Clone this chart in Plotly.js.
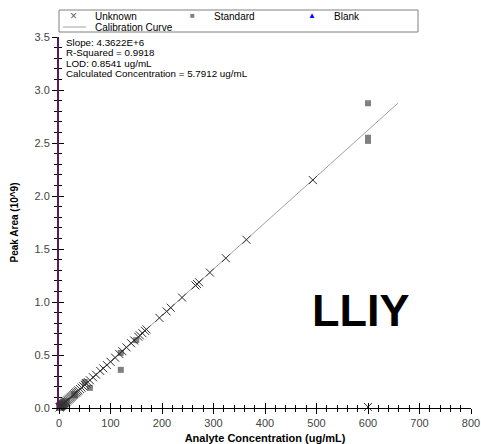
<!DOCTYPE html>
<html>
<head>
<meta charset="utf-8">
<script src="https://cdn.plot.ly/plotly-3.0.1.min.js"></script>
<style>html,body{margin:0;padding:0;background:#fff;}#chart{width:481px;height:444px;}</style>
</head>
<body>
<div id="chart"></div>
<script>
// Unknown samples (concentration ug/mL, peak area 10^9)
var unknownX = [1,2,3,4,5,6,7,8,9,10,11,12,13,14,16,18,20,22,24,26,28,30,32,34,36,38,41,44,47,50,53,56,60,66,72,80,86,93,100,109,117,123,131,140,146,154,157,162,167,170,195,209,217,239,265,268,272,293,324,364,493,600];
var unknownY = [0.005,0.010,0.014,0.018,0.023,0.027,0.031,0.036,0.040,0.045,0.048,0.053,0.058,0.062,0.071,0.079,0.088,0.097,0.105,0.114,0.123,0.131,0.140,0.148,0.157,0.166,0.179,0.192,0.205,0.218,0.231,0.244,0.262,0.290,0.314,0.350,0.374,0.405,0.436,0.475,0.510,0.536,0.572,0.611,0.637,0.672,0.685,0.706,0.728,0.741,0.850,0.911,0.946,1.042,1.156,1.169,1.186,1.278,1.413,1.587,2.150,0.010];
// Standards
var standardX = [0,1,2,5,10,15,30,30,50,60,120,120,150,600,600,600];
var standardY = [0.000,0.004,0.009,0.022,0.044,0.065,0.130,0.120,0.245,0.190,0.360,0.520,0.640,2.875,2.550,2.520];
// Blank
var blankX = [-4,-2];
var blankY = [0.025,0.020];
// Calibration curve end points
var calX = [0, 658];
var calY = [0.000, 2.875];
// Text
var statsLines = ["Slope: 4.3622E+6","R-Squared = 0.9918","LOD: 0.8541 ug/mL","Calculated Concentration = 5.7912 ug/mL"];
var legendNames = ["Unknown","Standard","Blank","Calibration Curve"];
var xTitle = "Analyte Concentration (ug/mL)";
var yTitle = "Peak Area (10^9)";
var label = "LLIY";

var W = 481, H = 444, L = 59, R = 10, T = 37, B = 36;
var pw = W - L - R, ph = H - T - B;
function px(x){ return (x - L) / pw; }
function py(y){ return (H - B - y) / ph; }

var font = "Liberation Sans, Arial, sans-serif";

var traces = [
  {x: calX, y: calY, mode: 'lines', type: 'scatter', line: {color: '#a0a0a0', width: 1}, hoverinfo: 'skip', cliponaxis: false},
  {x: standardX, y: standardY, mode: 'markers', type: 'scatter', marker: {symbol: 'square', size: 6, color: '#808080'}, cliponaxis: false},
  {x: unknownX, y: unknownY, mode: 'markers', type: 'scatter', marker: {symbol: 'x-thin-open', size: 8, color: '#303030', line: {color: '#303030', width: 1}}, cliponaxis: false},
  {x: blankX, y: blankY, mode: 'markers', type: 'scatter', marker: {symbol: 'triangle-right', size: 8, color: '#ff0000'}, cliponaxis: false}
];

var axisCommon = {
  showgrid: false, zeroline: false, showline: true, linecolor: '#000', linewidth: 1,
  tickcolor: '#000', tickwidth: 1, ticklen: 5,
  tickfont: {family: font, size: 11, color: '#444'}
};

var layout = {
  width: W, height: H,
  margin: {l: L, r: R, t: T, b: B, pad: 0},
  paper_bgcolor: '#fff', plot_bgcolor: '#fff',
  showlegend: false,
  xaxis: Object.assign({}, axisCommon, {
    range: [0, 800], dtick: 100, tick0: 0, ticks: 'outside',
    minor: {dtick: 20, ticks: 'outside', ticklen: 3, tickcolor: '#000'},
    title: {text: '<b>' + xTitle + '</b>', font: {family: font, size: 11, color: '#000'}, standoff: 6}
  }),
  yaxis: Object.assign({}, axisCommon, {
    range: [0, 3.5], dtick: 0.5, tick0: 0, ticks: 'outside', tickformat: '.1f',
    linecolor: '#5a1a5a', linewidth: 2,
    minor: {dtick: 0.1, ticks: 'outside', ticklen: 3, tickcolor: '#000'},
    title: {text: '<b>' + yTitle + '</b>', font: {family: font, size: 10, color: '#000'}, standoff: 14}
  }),
  xaxis2: {overlaying: 'x', range: [0, 800], dtick: 100, tick0: 0, ticks: 'inside', ticklen: 5, tickcolor: '#000',
    showticklabels: false, showgrid: false, zeroline: false, showline: false, anchor: 'y', side: 'bottom',
    minor: {dtick: 20, ticks: 'inside', ticklen: 3, tickcolor: '#000'}},
  yaxis2: {overlaying: 'y', range: [0, 3.5], dtick: 0.5, tick0: 0, ticks: 'inside', ticklen: 5, tickcolor: '#000',
    showticklabels: false, showgrid: false, zeroline: false, showline: false, anchor: 'x', side: 'left',
    minor: {dtick: 0.1, ticks: 'inside', ticklen: 3, tickcolor: '#000'}},
  shapes: [
    {type: 'rect', xref: 'paper', yref: 'paper', x0: px(59), x1: px(418), y0: py(32), y1: py(10),
      line: {color: '#808080', width: 1}, fillcolor: 'rgba(0,0,0,0)'},
    {type: 'line', xref: 'paper', yref: 'paper', x0: px(63), x1: px(86), y0: py(27), y1: py(27),
      line: {color: '#a0a0a0', width: 1}}
  ],
  annotations: []
};

// dummy trace for the overlay axes so their ticks draw
traces.push({x: [null], y: [null], xaxis: 'x2', yaxis: 'y2', mode: 'markers', hoverinfo: 'skip', showlegend: false});

function ann(text, x, y, size, color, anchor, bold) {
  layout.annotations.push({text: bold ? '<b>' + text + '</b>' : text, xref: 'paper', yref: 'paper',
    x: px(x), y: py(y), xanchor: anchor || 'left', yanchor: 'middle', showarrow: false,
    font: {family: font, size: size, color: color || '#000'}});
}
// legend
ann('\u00d7', 73, 16, 12, '#606060', 'center');
ann(legendNames[0], 93, 16, 10, '#000');
ann('\u25a0', 192, 15.5, 8, '#808080', 'center');
ann(legendNames[1], 212, 16, 10, '#000');
ann('\u25b2', 312, 15.5, 8, '#0000ff', 'center');
ann(legendNames[2], 332, 16, 10, '#000');
ann(legendNames[3], 93, 27.5, 10, '#000');
// stats
for (var i = 0; i < statsLines.length; i++) ann(statsLines[i], 64, 42 + i * 10.5, 9.8, '#000');
// big label
ann(label, 361, 310, 45, '#000', 'center', true);

Plotly.newPlot('chart', traces, layout, {staticPlot: true});
</script>
</body>
</html>
